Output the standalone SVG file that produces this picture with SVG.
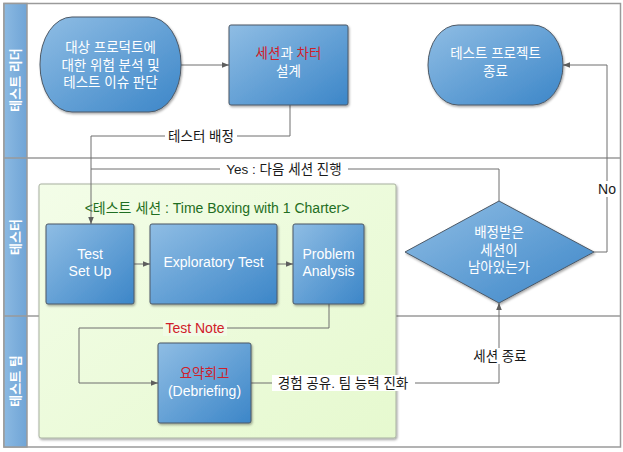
<svg xmlns="http://www.w3.org/2000/svg" width="623" height="452" viewBox="0 0 623 452">
<style>
text{font-family:"Liberation Sans","Noto Sans CJK KR",sans-serif;font-size:13.5px;text-anchor:middle;dominant-baseline:central}
.lat{font-size:14px}
.nt{fill:#ffffff}
.red{fill:#d0202a}
.lbl{fill:#1a1a1a}
.hd{fill:#ffffff;font-weight:bold;font-size:13px}
.node{fill:url(#ng);stroke:#4d5966;stroke-width:1;filter:url(#sh)}
.conn{fill:none;stroke:#6e6e6e;stroke-width:1}
.lane{fill:none;stroke:#9a9a9a;stroke-width:1.5}
.bg{fill:#ffffff}
</style>
<defs>
<linearGradient id="ng" x1="0" y1="0" x2="1" y2="1">
<stop offset="0" stop-color="#8fbde4"/>
<stop offset="1" stop-color="#3c86c8"/>
</linearGradient>
<linearGradient id="hg" x1="0" y1="0" x2="1" y2="0">
<stop offset="0" stop-color="#8bb9e2"/>
<stop offset="1" stop-color="#6fa4d6"/>
</linearGradient>
<linearGradient id="gg" x1="0" y1="0" x2="1" y2="1">
<stop offset="0" stop-color="#f3fde8"/>
<stop offset="1" stop-color="#e6f9cf"/>
</linearGradient>
<filter id="sh" x="-10%" y="-10%" width="130%" height="130%">
<feDropShadow dx="1" dy="1.5" stdDeviation="1.2" flood-color="#000" flood-opacity="0.35"/>
</filter>
<marker id="ar" viewBox="0 0 10 10" refX="10" refY="5" markerWidth="7" markerHeight="7" orient="auto">
<path d="M0,1 L10,5 L0,9 z" fill="#5e5e5e"/>
</marker>
</defs>
<rect width="623" height="452" fill="#ffffff"/>
<g id="lanes">
<rect x="4" y="3.5" width="616.5" height="443.5" class="lane"/>
<rect x="4" y="3.5" width="23" height="443.5" fill="url(#hg)" stroke="#9a9a9a" stroke-width="1.5"/>
<line x1="4" y1="158" x2="620.5" y2="158" class="lane"/>
<line x1="4" y1="316" x2="620.5" y2="316" class="lane"/>
<text class="hd" transform="translate(15.5,80) rotate(-90)">테스트 리더</text>
<text class="hd" transform="translate(15.5,237) rotate(-90)">테스터</text>
<text class="hd" transform="translate(15.5,381) rotate(-90)">테스트 팀</text>
</g>
<g id="session">
<rect x="39" y="184" width="357" height="254" rx="2" fill="url(#gg)" stroke="#a8b0a0" stroke-width="1" filter="url(#sh)"/>
<text x="217" y="208" fill="#1f6e22" style="font-size:14px">&lt;테스트 세션 : Time Boxing with 1 Charter&gt;</text>
</g>
<g id="connectors">
<path class="conn" d="M181,65 H229" marker-end="url(#ar)"/>
<path class="conn" d="M290,105 V136 H91 V224" marker-end="url(#ar)"/>
<path class="conn" d="M499,201 V169 H91"/>
<path class="conn" d="M134,264 H150" marker-end="url(#ar)"/>
<path class="conn" d="M277,264 H293" marker-end="url(#ar)"/>
<path class="conn" d="M329,304 V328 H79 V383 H158" marker-end="url(#ar)"/>
<path class="conn" d="M251,383 H499 V303" marker-end="url(#ar)"/>
<path class="conn" d="M594,252 H607 V65 H563" marker-end="url(#ar)"/>
<rect class="bg" x="165" y="128" width="72" height="16"/>
<text class="lbl" x="201" y="136">테스터 배정</text>
<rect class="bg" x="220" y="161" width="128" height="16"/>
<text class="lbl" x="284" y="169">Yes : 다음 세션 진행</text>
<rect x="163" y="320" width="64" height="16" fill="#f1fce6"/>
<text class="red lat" x="195" y="328">Test Note</text>
<rect class="bg" x="272" y="375" width="143" height="16"/>
<text class="lbl" x="343" y="383">경험 공유. 팀 능력 진화</text>
<rect class="bg" x="470" y="348" width="61" height="16"/>
<text class="lbl" x="500" y="356">세션 종료</text>
<rect class="bg" x="596" y="181" width="22" height="16"/>
<text class="lbl lat" x="607" y="189">No</text>
</g>
<g id="n-analysis-start">
<rect class="node" x="40" y="17" width="141" height="95" rx="32" ry="47"/>
<text class="nt" x="110.5" y="47">대상 프로덕트에</text>
<text class="nt" x="110.5" y="65">대한  위험 분석 및</text>
<text class="nt" x="110.5" y="82">테스트 이슈 판단</text>
</g>
<g id="n-design">
<rect class="node" x="229" y="25" width="119" height="80" rx="2"/>
<text x="288.5" y="53"><tspan class="red">세션</tspan><tspan class="nt">과 </tspan><tspan class="red">차터</tspan></text>
<text class="nt" x="288.5" y="71">설계</text>
</g>
<g id="n-end">
<rect class="node" x="428" y="25" width="135" height="80" rx="30" ry="40"/>
<text class="nt" x="495.5" y="53">테스트 프로젝트</text>
<text class="nt" x="495.5" y="71">종료</text>
</g>
<g id="n-setup">
<rect class="node" x="46" y="224" width="88" height="80" rx="2"/>
<text class="nt lat" x="90" y="254">Test</text>
<text class="nt lat" x="90" y="271">Set Up</text>
</g>
<g id="n-explore">
<rect class="node" x="150" y="224" width="127" height="80" rx="2"/>
<text class="nt lat" x="213.5" y="262">Exploratory Test</text>
</g>
<g id="n-problem">
<rect class="node" x="293" y="224" width="71" height="80" rx="2"/>
<text class="nt lat" x="328.5" y="254">Problem</text>
<text class="nt lat" x="328.5" y="271">Analysis</text>
</g>
<g id="n-decision">
<polygon class="node" points="499,201 594,252 499,303 405,252"/>
<text class="nt" x="499" y="232">배정받은</text>
<text class="nt" x="499" y="250">세션이</text>
<text class="nt" x="499" y="267">남아있는가</text>
</g>
<g id="n-debrief">
<rect class="node" x="158" y="343" width="93" height="80" rx="2"/>
<text class="red" x="204.5" y="373">요약회고</text>
<text class="nt lat" x="204.5" y="391">(Debriefing)</text>
</g>
</svg>
